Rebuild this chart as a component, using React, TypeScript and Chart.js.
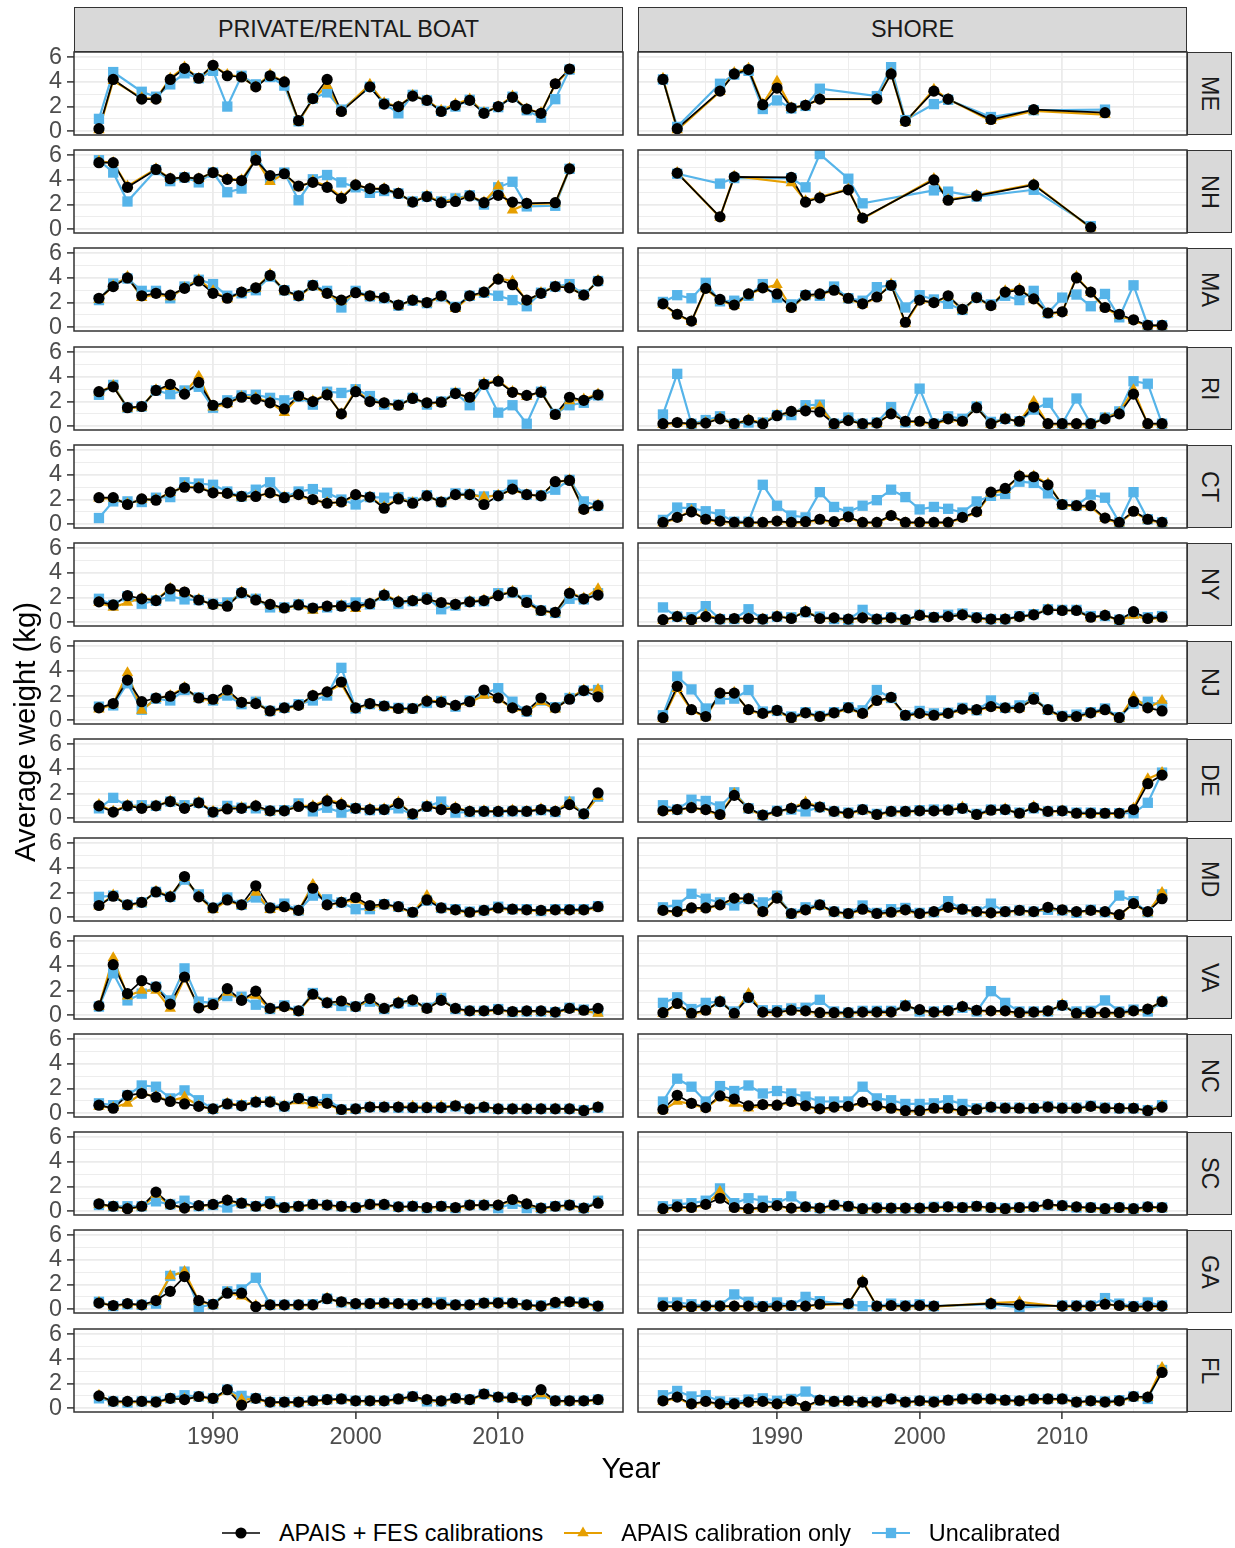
import React, { useEffect, useRef } from 'react';
import { Chart, registerables } from 'chart.js';

Chart.register(...registerables);

const _ = null;

// ---------------- data ----------------
const YEARS = [1982, 1983, 1984, 1985, 1986, 1987, 1988, 1989, 1990, 1991, 1992, 1993, 1994, 1995, 1996, 1997, 1998, 1999, 2000, 2001, 2002, 2003, 2004, 2005, 2006, 2007, 2008, 2009, 2010, 2011, 2012, 2013, 2014, 2015, 2016, 2017];
const X_TICKS = [1985, 1990, 1995, 2000, 2005, 2010, 2015];
const X_LABELS = [1990, 2000, 2010];
const Y_TICKS = [0, 1, 2, 3, 4, 5, 6];
const Y_LABELS = [0, 2, 4, 6];
const STATES = ['ME', 'NH', 'MA', 'RI', 'CT', 'NY', 'NJ', 'DE', 'MD', 'VA', 'NC', 'SC', 'GA', 'FL'];
const MODES = ['PRIVATE/RENTAL BOAT', 'SHORE'];
const SERIES = ['APAIS + FES calibrations', 'APAIS calibration only', 'Uncalibrated'];

const meBoatFes = [0.2, 4.2, _, 2.6, 2.6, 4.2, 5.1, 4.3, 5.35, 4.5, 4.4, 3.6, 4.5, 4.0, 0.85, 2.65, 4.2, 1.6, _, 3.6, 2.2, 2.0, 2.85, 2.5, 1.6, 2.1, 2.5, 1.45, 2.0, 2.75, 1.8, 1.45, 3.85, 5.05, _, _];
const meBoatApais = [0.1, 4.1, _, 2.7, 2.6, 4.3, 5.2, 4.3, 5.3, 4.6, 4.4, 3.6, 4.6, 4.0, 0.8, 2.6, 3.7, 1.6, _, 3.8, 2.3, 2.0, 2.9, 2.5, 1.7, 2.2, 2.6, 1.5, 2.0, 2.85, 1.8, 1.5, 3.8, 5.0, _, _];
const meBoatUncal = [1.0, 4.8, _, 3.2, 2.8, 3.8, 4.7, 4.3, 4.9, 2.0, 4.5, 3.8, 4.4, 3.7, 0.8, 2.65, 3.15, 1.75, _, 3.6, 2.25, 1.45, 2.95, 2.5, 1.65, 2.0, 2.55, 1.55, 1.95, 2.8, 1.7, 1.1, 2.6, 5.0, _, _];
const meShoreFes = [4.2, 0.2, _, _, 3.25, 4.65, 5.0, 2.15, 3.5, 1.9, 2.1, 2.6, _, _, _, 2.6, 4.65, 0.8, _, 3.25, 2.6, _, _, 0.95, _, _, 1.75, _, _, _, _, 1.5, _, _, _, _];
const meShoreApais = [4.3, 0.1, _, _, 3.2, 4.75, 5.1, 2.2, 4.05, 1.9, 2.1, 2.6, _, _, _, 2.6, 4.7, 0.7, _, 3.4, 2.6, _, _, 0.85, _, _, 1.65, _, _, _, _, 1.35, _, _, _, _];
const meShoreUncal = [4.2, 0.35, _, _, 3.85, 4.6, 4.9, 1.8, 2.5, 1.85, 2.05, 3.45, _, _, _, 2.85, 5.2, 0.9, _, 2.2, 2.55, _, _, 1.15, _, _, 1.7, _, _, _, _, 1.75, _, _, _, _];

const nhBoatFes = [5.4, 5.4, 3.4, _, 4.85, 4.1, 4.2, 4.1, 4.6, 4.05, 3.95, 5.6, 4.35, 4.5, 3.5, 3.8, 3.4, 2.5, 3.6, 3.3, 3.25, 2.9, 2.2, 2.65, 2.15, 2.25, 2.7, 2.15, 2.75, 2.2, 2.1, _, 2.15, 4.9, _, _];
const nhBoatApais = [5.5, 5.4, 3.5, _, 4.9, 4.1, 4.2, 4.1, 4.6, 4.1, 4.0, 5.7, 3.85, 4.5, 3.4, 3.9, 3.5, 2.6, 3.6, 3.3, 3.3, 2.9, 2.2, 2.7, 2.2, 2.4, 2.7, 2.2, 3.5, 1.55, 2.05, _, 2.1, 4.95, _, _];
const nhBoatUncal = [5.6, 4.6, 2.25, _, 4.8, 3.9, 4.2, 3.8, 4.6, 3.0, 3.3, 5.95, 4.1, 4.6, 2.35, 4.05, 4.4, 3.8, 3.4, 2.95, 3.1, 2.9, 2.25, 2.65, 2.25, 2.5, 2.75, 2.0, 3.4, 3.85, 1.85, _, 1.9, 4.9, _, _];
const nhShoreFes = [_, 4.55, _, _, 1.0, 4.25, _, _, _, 4.2, 2.2, 2.55, _, 3.2, 0.9, _, _, _, _, 4.0, 2.35, _, 2.7, _, _, _, 3.6, _, _, _, 0.15, _, _, _, _, _];
const nhShoreApais = [_, 4.6, _, _, 0.95, 4.3, _, _, _, 3.75, 2.3, 2.6, _, 3.25, 0.85, _, _, _, _, 4.1, 2.4, _, 2.75, _, _, _, 3.65, _, _, _, 0.1, _, _, _, _, _];
const nhShoreUncal = [_, 4.5, _, _, 3.7, 4.15, _, _, _, 4.15, 3.4, 6.1, _, 4.1, 2.1, _, _, _, _, 3.15, 3.05, _, 2.65, _, _, _, 3.2, _, _, _, 0.25, _, _, _, _, _];

const maBoatFes = [2.35, 3.3, 4.0, 2.55, 2.75, 2.6, 3.15, 3.75, 2.75, 2.35, 2.85, 3.2, 4.2, 3.0, 2.55, 3.4, 2.75, 2.2, 2.8, 2.55, 2.4, 1.8, 2.2, 2.0, 2.55, 1.6, 2.55, 2.85, 3.9, 3.45, 2.2, 2.75, 3.3, 3.2, 2.6, 3.75];
const maBoatApais = [2.25, 3.35, 4.1, 2.4, 2.7, 2.45, 3.2, 3.85, 2.95, 2.3, 2.8, 3.15, 4.3, 2.95, 2.5, 3.35, 2.7, 2.1, 2.75, 2.5, 2.4, 1.75, 2.2, 1.95, 2.5, 1.5, 2.5, 2.8, 3.95, 3.75, 2.1, 2.8, 3.3, 3.25, 2.55, 3.8];
const maBoatUncal = [2.2, 3.55, 3.95, 2.95, 2.95, 2.35, 3.3, 3.85, 3.5, 2.55, 2.75, 3.0, 4.1, 3.0, 2.55, 3.4, 2.95, 1.6, 2.95, 2.5, 2.35, 1.75, 2.15, 1.95, 2.5, 1.65, 2.55, 2.8, 2.55, 2.2, 1.7, 2.8, 3.3, 3.5, 2.65, 3.75];
const maShoreFes = [1.9, 1.05, 0.5, 3.15, 2.25, 1.8, 2.7, 3.2, 2.7, 1.6, 2.6, 2.7, 3.0, 2.35, 1.9, 2.45, 3.4, 0.4, 2.2, 2.0, 2.55, 1.45, 2.4, 1.75, 2.85, 3.0, 2.3, 1.15, 1.25, 4.0, 2.85, 1.6, 1.05, 0.6, 0.15, 0.15];
const maShoreApais = [1.85, 1.0, 0.45, 3.1, 2.2, 1.75, 2.65, 3.15, 3.45, 1.55, 2.55, 2.65, 3.0, 2.3, 1.85, 2.4, 3.5, 0.3, 2.15, 2.0, 2.5, 1.4, 2.4, 1.7, 2.95, 3.1, 2.25, 1.1, 1.2, 4.1, 2.8, 1.55, 0.95, 0.55, 0.1, 0.1];
const maShoreUncal = [2.05, 2.6, 2.35, 3.6, 2.1, 2.15, 2.55, 3.5, 2.4, 1.85, 2.6, 2.55, 3.3, 2.35, 2.15, 3.25, 3.4, 1.6, 2.6, 2.25, 1.9, 1.4, 2.4, 1.85, 2.55, 2.2, 2.95, 1.15, 2.4, 2.65, 1.7, 2.7, 0.8, 3.4, 0.15, 0.15];

const riBoatFes = [2.8, 3.2, 1.5, 1.6, 2.9, 3.4, 2.6, 3.55, 1.7, 1.9, 2.35, 2.2, 1.9, 1.4, 2.45, 2.0, 2.55, 1.0, 2.8, 2.0, 1.9, 1.7, 2.25, 1.9, 1.95, 2.65, 2.35, 3.4, 3.65, 2.75, 2.5, 2.75, 0.95, 2.35, 2.1, 2.55];
const riBoatApais = [2.75, 3.3, 1.45, 1.55, 2.95, 3.2, 2.7, 4.05, 1.55, 1.8, 2.4, 2.3, 1.95, 1.1, 2.4, 2.05, 2.6, 1.0, 2.9, 2.05, 1.85, 1.65, 2.3, 1.85, 1.9, 2.7, 2.3, 3.5, 3.7, 2.8, 2.4, 2.8, 0.9, 2.05, 2.2, 2.6];
const riBoatUncal = [2.55, 3.35, 1.5, 1.6, 2.9, 2.6, 2.9, 3.2, 1.5, 2.1, 2.5, 2.55, 2.3, 2.1, 2.4, 1.75, 2.8, 2.7, 3.0, 2.45, 1.75, 1.75, 2.3, 1.75, 2.0, 2.7, 1.7, 3.4, 1.1, 1.7, 0.2, 2.8, 1.0, 1.7, 1.9, 2.5];
const riShoreFes = [0.2, 0.3, 0.2, 0.25, 0.6, 0.2, 0.5, 0.2, 0.85, 1.2, 1.25, 1.15, 0.2, 0.45, 0.2, 0.25, 1.0, 0.4, 0.4, 0.2, 0.6, 0.4, 1.5, 0.2, 0.6, 0.4, 1.55, 0.2, 0.2, 0.2, 0.2, 0.6, 1.0, 2.6, 0.2, 0.2];
const riShoreApais = [0.15, 0.25, 0.15, 0.3, 0.65, 0.15, 0.55, 0.25, 0.9, 1.15, 1.35, 1.6, 0.15, 0.5, 0.15, 0.2, 1.05, 0.35, 0.35, 0.15, 0.55, 0.35, 1.55, 0.15, 0.65, 0.35, 2.0, 0.15, 0.15, 0.15, 0.15, 0.65, 1.1, 2.95, 0.15, 0.15];
const riShoreUncal = [0.95, 4.25, 0.2, 0.5, 0.8, 0.2, 0.3, 0.3, 0.9, 0.9, 1.7, 1.75, 0.2, 0.7, 0.2, 0.3, 1.55, 0.3, 3.05, 0.2, 0.8, 0.6, 1.6, 0.35, 0.6, 0.4, 1.35, 1.9, 0.2, 2.25, 0.2, 0.7, 1.2, 3.65, 3.45, 0.2];

const ctBoatFes = [2.15, 2.15, 1.6, 2.05, 1.95, 2.6, 3.0, 2.95, 2.55, 2.5, 2.25, 2.25, 2.55, 2.15, 2.4, 2.0, 1.7, 1.8, 2.4, 2.2, 1.3, 2.05, 1.7, 2.3, 1.8, 2.4, 2.4, 1.6, 2.3, 2.85, 2.4, 2.3, 3.45, 3.55, 1.2, 1.5];
const ctBoatApais = [2.1, 2.1, 1.65, 2.0, 2.0, 2.55, 3.05, 3.0, 2.6, 2.45, 2.2, 2.3, 2.5, 2.2, 2.35, 1.95, 1.75, 1.75, 2.35, 2.2, 1.4, 2.1, 1.75, 2.3, 1.8, 2.35, 2.4, 2.2, 2.35, 2.8, 2.4, 2.3, 3.4, 3.6, 1.15, 1.55];
const ctBoatUncal = [0.5, 1.85, 1.85, 1.8, 2.15, 2.2, 3.4, 3.3, 3.2, 2.65, 2.25, 2.8, 3.4, 2.2, 2.65, 2.85, 2.55, 2.0, 1.6, 2.2, 2.15, 2.2, 1.8, 2.35, 1.8, 2.5, 2.45, 2.25, 2.35, 3.2, 2.4, 2.35, 2.8, 3.6, 1.85, 1.5];
const ctShoreFes = [0.15, 0.55, 1.0, 0.4, 0.25, 0.15, 0.15, 0.15, 0.25, 0.15, 0.2, 0.4, 0.2, 0.6, 0.15, 0.15, 0.7, 0.15, 0.15, 0.15, 0.15, 0.55, 1.0, 2.6, 2.9, 3.9, 3.85, 3.2, 1.6, 1.5, 1.5, 0.5, 0.15, 1.05, 0.4, 0.15];
const ctShoreApais = [0.1, 0.5, 1.1, 0.35, 0.2, 0.1, 0.1, 0.1, 0.2, 0.1, 0.15, 0.35, 0.15, 0.55, 0.1, 0.1, 0.65, 0.1, 0.1, 0.1, 0.1, 0.5, 0.95, 2.5, 2.8, 3.95, 3.9, 3.3, 1.55, 1.45, 1.4, 0.45, 0.1, 1.0, 0.35, 0.1];
const ctShoreUncal = [0.35, 1.35, 1.3, 1.05, 0.8, 0.2, 0.2, 3.2, 1.5, 0.7, 0.55, 2.6, 1.4, 1.0, 1.5, 1.95, 2.8, 2.2, 1.2, 1.4, 1.25, 0.95, 1.85, 2.3, 2.45, 3.45, 3.35, 2.5, 1.6, 1.5, 2.4, 2.15, 0.15, 2.6, 0.4, 0.15];

const nyBoatFes = [1.65, 1.4, 2.15, 1.9, 1.75, 2.7, 2.45, 1.8, 1.45, 1.3, 2.4, 1.8, 1.45, 1.15, 1.4, 1.15, 1.3, 1.3, 1.3, 1.5, 2.2, 1.65, 1.75, 1.85, 1.6, 1.45, 1.65, 1.75, 2.15, 2.45, 1.6, 0.95, 0.8, 2.35, 1.9, 2.2];
const nyBoatApais = [1.6, 1.2, 1.6, 1.95, 1.8, 2.75, 2.4, 1.85, 1.4, 1.35, 2.45, 1.85, 1.4, 1.1, 1.4, 0.95, 1.25, 1.35, 1.1, 1.5, 2.25, 1.7, 1.75, 1.9, 1.55, 1.4, 1.7, 1.8, 2.2, 2.5, 1.55, 0.9, 0.75, 2.4, 1.95, 2.7];
const nyBoatUncal = [1.9, 1.4, 2.1, 1.5, 1.75, 2.1, 1.85, 1.8, 1.5, 1.6, 2.35, 1.9, 1.2, 1.2, 1.45, 1.1, 1.2, 1.35, 1.6, 1.45, 2.15, 1.5, 1.7, 2.0, 1.05, 1.35, 1.65, 1.7, 2.35, 2.4, 1.8, 0.95, 0.75, 1.9, 1.85, 2.35];
const nyShoreFes = [0.2, 0.45, 0.2, 0.45, 0.25, 0.3, 0.3, 0.25, 0.45, 0.3, 0.85, 0.3, 0.35, 0.25, 0.35, 0.25, 0.35, 0.2, 0.55, 0.4, 0.45, 0.6, 0.35, 0.25, 0.25, 0.45, 0.6, 1.0, 0.95, 0.95, 0.4, 0.55, 0.2, 0.85, 0.3, 0.4];
const nyShoreApais = [0.15, 0.45, 0.15, 0.6, 0.25, 0.25, 0.3, 0.25, 0.5, 0.3, 0.9, 0.3, 0.3, 0.2, 0.35, 0.2, 0.3, 0.15, 0.55, 0.35, 0.45, 0.6, 0.3, 0.2, 0.25, 0.4, 0.6, 1.05, 0.95, 0.95, 0.35, 0.55, 0.15, 0.55, 0.25, 0.35];
const nyShoreUncal = [1.2, 0.45, 0.4, 1.3, 0.25, 0.25, 1.05, 0.25, 0.45, 0.4, 0.8, 0.45, 0.25, 0.2, 1.0, 0.25, 0.4, 0.2, 0.6, 0.4, 0.6, 0.7, 0.4, 0.25, 0.25, 0.5, 0.65, 1.05, 1.0, 1.0, 0.5, 0.5, 0.2, 0.7, 0.4, 0.5];

const njBoatFes = [1.0, 1.35, 3.25, 1.5, 1.8, 1.95, 2.6, 1.8, 1.7, 2.45, 1.45, 1.35, 0.75, 1.0, 1.2, 2.0, 2.3, 3.1, 1.0, 1.35, 1.15, 0.95, 0.95, 1.55, 1.45, 1.2, 1.5, 2.45, 1.8, 1.0, 0.75, 1.8, 1.0, 1.7, 2.4, 1.9];
const njBoatApais = [0.9, 1.3, 3.85, 0.8, 1.75, 2.0, 2.65, 1.75, 1.6, 2.3, 1.4, 1.4, 0.7, 0.95, 1.15, 2.0, 2.25, 2.95, 0.95, 1.3, 1.1, 0.9, 0.9, 1.6, 1.5, 1.15, 1.45, 2.0, 1.75, 0.95, 0.7, 1.5, 0.9, 1.8, 2.45, 2.5];
const njBoatUncal = [1.1, 1.2, 3.0, 0.85, 1.75, 1.6, 2.45, 1.85, 1.6, 2.0, 1.3, 1.5, 0.75, 1.0, 1.3, 1.6, 2.0, 4.25, 0.95, 1.3, 1.15, 1.0, 0.95, 1.4, 1.55, 1.1, 1.6, 2.15, 2.6, 1.5, 0.7, 1.6, 1.05, 1.8, 2.4, 2.45];
const njShoreFes = [0.2, 2.75, 0.85, 0.3, 2.2, 2.2, 0.85, 0.55, 0.8, 0.2, 0.6, 0.3, 0.6, 1.0, 0.55, 1.6, 1.85, 0.4, 0.55, 0.4, 0.55, 0.9, 0.85, 1.1, 1.0, 1.0, 1.7, 0.85, 0.3, 0.3, 0.6, 0.85, 0.2, 1.5, 1.0, 0.75];
const njShoreApais = [0.15, 2.55, 0.8, 0.25, 2.15, 2.25, 0.8, 0.5, 0.75, 0.15, 0.55, 0.25, 0.55, 0.95, 0.5, 1.55, 1.8, 0.35, 0.5, 0.35, 0.5, 0.85, 0.8, 1.05, 0.95, 0.95, 1.75, 0.8, 0.25, 0.25, 0.55, 0.8, 0.15, 1.9, 1.0, 1.6];
const njShoreUncal = [0.4, 3.55, 2.5, 0.95, 1.7, 1.75, 2.45, 0.7, 0.75, 0.3, 0.65, 0.35, 0.65, 1.05, 0.8, 2.45, 1.8, 0.4, 0.75, 0.55, 0.6, 1.0, 0.8, 1.6, 1.0, 1.2, 1.85, 0.85, 0.35, 0.45, 0.65, 0.95, 0.25, 1.35, 1.5, 1.2];

const deBoatFes = [1.0, 0.5, 1.0, 0.8, 1.0, 1.35, 0.8, 1.25, 0.5, 0.75, 0.8, 1.0, 0.6, 0.6, 0.95, 0.9, 1.4, 1.1, 0.8, 0.7, 0.7, 1.2, 0.35, 0.95, 0.7, 0.8, 0.55, 0.55, 0.55, 0.6, 0.55, 0.7, 0.55, 1.1, 0.35, 2.05];
const deBoatApais = [1.1, 0.55, 1.05, 0.85, 1.0, 1.4, 0.85, 1.3, 0.55, 0.8, 0.85, 1.0, 0.55, 0.6, 1.0, 1.0, 1.5, 1.2, 0.8, 0.75, 0.75, 1.3, 0.3, 1.0, 0.75, 0.85, 0.55, 0.6, 0.55, 0.65, 0.55, 0.75, 0.55, 1.3, 0.3, 1.75];
const deBoatUncal = [0.8, 1.65, 1.0, 1.05, 1.0, 1.35, 1.05, 1.25, 0.5, 1.0, 0.85, 0.8, 0.6, 0.65, 1.2, 0.55, 0.85, 0.45, 0.8, 0.65, 0.7, 0.8, 0.3, 0.95, 1.35, 0.45, 0.5, 0.55, 0.5, 0.55, 0.55, 0.65, 0.5, 1.35, 0.35, 1.75];
const deShoreFes = [0.6, 0.7, 0.85, 0.7, 0.3, 1.85, 0.8, 0.25, 0.55, 0.8, 1.15, 0.9, 0.55, 0.4, 0.7, 0.3, 0.55, 0.55, 0.6, 0.6, 0.65, 0.8, 0.3, 0.65, 0.7, 0.4, 0.85, 0.55, 0.6, 0.4, 0.4, 0.4, 0.4, 0.7, 2.8, 3.5];
const deShoreApais = [0.55, 0.65, 0.85, 0.65, 0.25, 2.0, 0.75, 0.2, 0.5, 0.8, 1.3, 0.9, 0.5, 0.35, 0.65, 0.25, 0.5, 0.5, 0.6, 0.6, 0.65, 0.9, 0.25, 0.6, 0.75, 0.35, 0.95, 0.5, 0.6, 0.35, 0.35, 0.35, 0.35, 0.8, 3.2, 3.7];
const deShoreUncal = [1.05, 0.7, 1.5, 1.4, 0.95, 2.1, 0.8, 0.25, 0.6, 0.7, 0.55, 0.9, 0.55, 0.45, 0.7, 0.35, 0.55, 0.55, 0.65, 0.7, 0.7, 0.8, 0.35, 0.7, 0.7, 0.45, 0.8, 0.55, 0.6, 0.45, 0.45, 0.4, 0.4, 0.4, 1.25, 3.7];

const mdBoatFes = [0.95, 1.7, 1.0, 1.2, 2.05, 1.65, 3.3, 1.65, 0.75, 1.4, 1.0, 2.55, 0.75, 0.85, 0.55, 2.35, 1.0, 1.2, 1.6, 0.95, 1.05, 0.85, 0.4, 1.4, 0.75, 0.6, 0.4, 0.55, 0.75, 0.65, 0.6, 0.55, 0.6, 0.6, 0.6, 0.85];
const mdBoatApais = [0.9, 1.8, 0.95, 1.15, 2.1, 1.7, 3.2, 1.7, 0.6, 1.35, 0.95, 2.0, 0.6, 0.8, 0.5, 2.65, 0.95, 1.2, 1.4, 0.8, 1.0, 0.8, 0.35, 1.75, 0.7, 0.55, 0.35, 0.5, 0.7, 0.6, 0.55, 0.5, 0.55, 0.55, 0.55, 0.8];
const mdBoatUncal = [1.65, 1.75, 1.0, 1.2, 2.05, 1.65, 3.05, 1.85, 0.75, 1.6, 1.0, 1.6, 0.75, 1.1, 0.55, 1.75, 1.45, 1.2, 0.65, 0.65, 1.05, 0.85, 0.4, 1.35, 0.75, 0.65, 0.45, 0.55, 0.85, 0.65, 0.65, 0.5, 0.65, 0.65, 0.65, 0.9];
const mdShoreFes = [0.55, 0.45, 0.75, 0.75, 1.0, 1.55, 1.5, 0.45, 1.55, 0.3, 0.6, 1.0, 0.45, 0.3, 0.65, 0.3, 0.4, 0.6, 0.3, 0.45, 0.8, 0.65, 0.45, 0.35, 0.45, 0.55, 0.45, 0.8, 0.6, 0.45, 0.55, 0.45, 0.2, 1.1, 0.45, 1.5];
const mdShoreApais = [0.5, 0.4, 0.7, 0.7, 1.0, 1.5, 1.5, 0.4, 1.6, 0.25, 0.55, 0.95, 0.4, 0.25, 0.6, 0.25, 0.35, 0.55, 0.25, 0.4, 0.75, 0.6, 0.4, 0.3, 0.4, 0.5, 0.4, 0.75, 0.55, 0.4, 0.5, 0.4, 0.15, 1.1, 0.35, 2.0];
const mdShoreUncal = [0.8, 1.0, 1.9, 1.5, 1.2, 0.95, 1.5, 1.2, 1.75, 0.3, 0.8, 1.0, 0.45, 0.3, 0.95, 0.35, 0.65, 0.75, 0.35, 0.4, 1.3, 0.65, 0.45, 1.1, 0.45, 0.55, 0.45, 0.6, 0.55, 0.35, 0.6, 0.4, 1.75, 1.3, 0.4, 1.85];

const vaBoatFes = [0.75, 4.1, 1.75, 2.8, 2.3, 0.9, 3.1, 0.6, 0.85, 2.15, 1.2, 1.95, 0.55, 0.7, 0.35, 1.7, 1.0, 1.15, 0.7, 1.35, 0.55, 1.0, 1.25, 0.55, 1.2, 0.55, 0.35, 0.35, 0.45, 0.3, 0.35, 0.35, 0.25, 0.55, 0.4, 0.55];
const vaBoatApais = [0.7, 4.65, 1.55, 2.0, 2.0, 0.55, 3.0, 0.65, 0.8, 1.85, 1.3, 1.6, 0.5, 0.65, 0.3, 1.65, 1.0, 1.1, 0.65, 1.25, 0.5, 1.05, 1.2, 0.5, 1.25, 0.5, 0.3, 0.3, 0.4, 0.25, 0.3, 0.3, 0.2, 0.5, 0.35, 0.15];
const vaBoatUncal = [0.7, 3.4, 1.2, 1.75, 2.3, 1.2, 3.8, 1.1, 1.0, 1.55, 1.5, 0.85, 0.5, 0.8, 0.35, 1.8, 1.0, 0.75, 0.7, 1.1, 0.5, 0.95, 1.1, 0.6, 1.4, 0.5, 0.35, 0.35, 0.5, 0.25, 0.3, 0.3, 0.25, 0.6, 0.45, 0.3];
const vaShoreFes = [0.2, 0.95, 0.15, 0.4, 1.1, 0.15, 1.45, 0.25, 0.25, 0.4, 0.35, 0.2, 0.2, 0.2, 0.25, 0.25, 0.25, 0.75, 0.45, 0.25, 0.35, 0.7, 0.4, 0.35, 0.35, 0.2, 0.25, 0.35, 0.8, 0.15, 0.2, 0.2, 0.2, 0.35, 0.5, 1.1];
const vaShoreApais = [0.15, 0.9, 0.1, 0.35, 1.15, 0.1, 1.75, 0.2, 0.2, 0.4, 0.3, 0.15, 0.15, 0.15, 0.2, 0.2, 0.2, 0.8, 0.4, 0.2, 0.3, 0.7, 0.35, 0.3, 0.3, 0.15, 0.2, 0.3, 0.85, 0.1, 0.15, 0.15, 0.15, 0.3, 0.45, 1.15];
const vaShoreUncal = [1.0, 1.45, 0.5, 1.0, 1.1, 0.3, 1.4, 0.4, 0.4, 0.55, 0.6, 1.25, 0.3, 0.2, 0.35, 0.35, 0.35, 0.8, 0.3, 0.3, 0.4, 0.6, 0.3, 1.95, 1.0, 0.3, 0.3, 0.3, 0.8, 0.3, 0.35, 1.2, 0.3, 0.45, 0.3, 1.1];

const ncBoatFes = [0.65, 0.4, 1.45, 1.6, 1.3, 0.95, 0.75, 0.55, 0.35, 0.75, 0.6, 0.9, 0.9, 0.55, 1.2, 0.95, 0.8, 0.3, 0.35, 0.5, 0.5, 0.5, 0.45, 0.45, 0.45, 0.6, 0.35, 0.5, 0.35, 0.35, 0.35, 0.35, 0.35, 0.35, 0.2, 0.5];
const ncBoatApais = [0.55, 0.45, 0.8, 1.6, 1.35, 1.0, 1.3, 0.6, 0.3, 0.8, 0.65, 0.95, 0.95, 0.6, 1.0, 0.65, 0.75, 0.25, 0.3, 0.5, 0.5, 0.5, 0.55, 0.5, 0.55, 0.6, 0.4, 0.5, 0.35, 0.35, 0.35, 0.35, 0.35, 0.35, 0.2, 0.5];
const ncBoatUncal = [0.8, 0.65, 1.45, 2.25, 2.15, 1.2, 1.85, 1.05, 0.35, 0.75, 0.65, 0.9, 0.95, 0.55, 1.2, 0.95, 1.15, 0.3, 0.35, 0.5, 0.5, 0.45, 0.45, 0.45, 0.45, 0.55, 0.35, 0.45, 0.35, 0.35, 0.35, 0.35, 0.35, 0.35, 0.25, 0.45];
const ncShoreFes = [0.3, 1.45, 0.8, 0.45, 1.4, 1.15, 0.6, 0.7, 0.65, 0.95, 0.6, 0.35, 0.5, 0.55, 0.9, 0.6, 0.4, 0.2, 0.2, 0.4, 0.4, 0.2, 0.3, 0.5, 0.4, 0.4, 0.4, 0.5, 0.4, 0.4, 0.55, 0.4, 0.4, 0.4, 0.2, 0.5];
const ncShoreApais = [0.25, 0.95, 0.75, 0.4, 1.3, 0.8, 0.4, 0.65, 0.6, 0.9, 0.55, 0.3, 0.45, 0.5, 0.85, 0.55, 0.35, 0.15, 0.15, 0.35, 0.35, 0.15, 0.3, 0.5, 0.4, 0.4, 0.4, 0.5, 0.4, 0.4, 0.5, 0.4, 0.4, 0.4, 0.2, 0.6];
const ncShoreUncal = [0.95, 2.8, 2.15, 0.95, 2.2, 1.8, 2.25, 1.6, 1.8, 1.6, 1.35, 0.95, 0.95, 0.95, 2.15, 1.2, 1.05, 0.75, 0.75, 0.8, 1.05, 0.75, 0.4, 0.5, 0.45, 0.45, 0.4, 0.55, 0.45, 0.45, 0.6, 0.45, 0.4, 0.4, 0.25, 0.65];

const scBoatFes = [0.6, 0.4, 0.2, 0.4, 1.55, 0.55, 0.25, 0.45, 0.55, 0.9, 0.65, 0.4, 0.6, 0.3, 0.4, 0.55, 0.5, 0.4, 0.3, 0.55, 0.55, 0.35, 0.4, 0.3, 0.4, 0.3, 0.5, 0.5, 0.5, 0.95, 0.6, 0.25, 0.4, 0.5, 0.25, 0.65];
const scBoatApais = [0.55, 0.35, 0.2, 0.35, 1.35, 0.5, 0.25, 0.4, 0.5, 0.85, 0.6, 0.35, 0.55, 0.25, 0.35, 0.5, 0.45, 0.35, 0.25, 0.5, 0.5, 0.3, 0.4, 0.25, 0.35, 0.25, 0.45, 0.5, 0.45, 0.9, 0.55, 0.2, 0.35, 0.45, 0.2, 0.7];
const scBoatUncal = [0.5, 0.4, 0.4, 0.4, 0.8, 0.55, 0.85, 0.4, 0.5, 0.3, 0.65, 0.4, 0.8, 0.3, 0.4, 0.55, 0.5, 0.4, 0.3, 0.55, 0.5, 0.35, 0.4, 0.25, 0.4, 0.25, 0.5, 0.5, 0.25, 0.6, 0.25, 0.25, 0.4, 0.5, 0.25, 0.85];
const scShoreFes = [0.2, 0.35, 0.3, 0.55, 1.05, 0.3, 0.2, 0.3, 0.45, 0.25, 0.35, 0.25, 0.5, 0.4, 0.2, 0.25, 0.25, 0.25, 0.25, 0.3, 0.35, 0.3, 0.4, 0.3, 0.2, 0.3, 0.35, 0.55, 0.45, 0.35, 0.3, 0.2, 0.3, 0.2, 0.35, 0.3];
const scShoreApais = [0.15, 0.3, 0.25, 0.5, 1.6, 0.25, 0.15, 0.25, 0.4, 0.2, 0.3, 0.2, 0.45, 0.35, 0.15, 0.2, 0.2, 0.2, 0.2, 0.25, 0.3, 0.25, 0.35, 0.25, 0.15, 0.25, 0.3, 0.5, 0.4, 0.3, 0.25, 0.15, 0.25, 0.15, 0.3, 0.25];
const scShoreUncal = [0.4, 0.55, 0.65, 0.85, 1.85, 0.65, 1.05, 0.85, 0.65, 1.2, 0.35, 0.25, 0.5, 0.4, 0.2, 0.3, 0.25, 0.25, 0.25, 0.35, 0.35, 0.3, 0.4, 0.3, 0.25, 0.3, 0.35, 0.5, 0.45, 0.3, 0.3, 0.2, 0.3, 0.2, 0.35, 0.3];

const gaBoatFes = [0.5, 0.3, 0.45, 0.35, 0.7, 1.45, 2.65, 0.7, 0.4, 1.3, 1.3, 0.2, 0.35, 0.35, 0.35, 0.35, 0.85, 0.6, 0.45, 0.45, 0.5, 0.45, 0.35, 0.5, 0.4, 0.35, 0.35, 0.5, 0.5, 0.5, 0.35, 0.25, 0.55, 0.6, 0.5, 0.25];
const gaBoatApais = [0.55, 0.25, 0.4, 0.3, 0.65, 2.7, 3.05, 0.65, 0.35, 1.35, 1.05, 0.3, 0.3, 0.3, 0.3, 0.3, 0.9, 0.55, 0.4, 0.4, 0.45, 0.4, 0.3, 0.45, 0.35, 0.3, 0.3, 0.45, 0.45, 0.45, 0.3, 0.2, 0.5, 0.55, 0.45, 0.2];
const gaBoatUncal = [0.6, 0.25, 0.4, 0.35, 0.45, 2.7, 3.05, 0.15, 0.4, 1.45, 1.6, 2.55, 0.35, 0.35, 0.35, 0.4, 0.85, 0.55, 0.4, 0.45, 0.5, 0.45, 0.4, 0.5, 0.55, 0.35, 0.35, 0.5, 0.55, 0.5, 0.35, 0.3, 0.45, 0.6, 0.55, 0.25];
const gaShoreFes = [0.25, 0.25, 0.2, 0.25, 0.25, 0.25, 0.25, 0.2, 0.25, 0.3, 0.25, 0.4, _, 0.45, 2.2, 0.25, 0.3, 0.25, 0.3, 0.25, _, _, _, 0.45, _, 0.35, _, _, 0.25, 0.25, 0.25, 0.4, 0.3, 0.2, 0.25, 0.25];
const gaShoreApais = [0.2, 0.2, 0.15, 0.2, 0.2, 0.2, 0.2, 0.15, 0.2, 0.25, 0.2, 0.35, _, 0.4, 2.3, 0.2, 0.25, 0.2, 0.25, 0.2, _, _, _, 0.5, _, 0.6, _, _, 0.2, 0.2, 0.2, 0.45, 0.25, 0.15, 0.2, 0.2];
const gaShoreUncal = [0.55, 0.55, 0.4, 0.3, 0.3, 1.2, 0.6, 0.25, 0.55, 0.3, 1.0, 0.65, _, 0.4, 0.25, 0.25, 0.45, 0.3, 0.4, 0.25, _, _, _, 0.4, _, 0.15, _, _, 0.3, 0.3, 0.3, 0.9, 0.45, 0.25, 0.55, 0.3];

const flBoatFes = [1.0, 0.55, 0.55, 0.55, 0.5, 0.8, 0.7, 0.95, 0.8, 1.5, 0.25, 0.8, 0.5, 0.5, 0.5, 0.6, 0.7, 0.75, 0.6, 0.6, 0.6, 0.75, 0.95, 0.7, 0.6, 0.8, 0.7, 1.15, 0.9, 0.85, 0.6, 1.5, 0.6, 0.6, 0.6, 0.7];
const flBoatApais = [1.05, 0.5, 0.5, 0.5, 0.45, 0.75, 0.75, 0.9, 0.75, 1.4, 0.7, 0.75, 0.45, 0.45, 0.45, 0.55, 0.65, 0.7, 0.55, 0.55, 0.55, 0.7, 0.9, 0.65, 0.55, 0.75, 0.65, 1.1, 0.85, 0.8, 0.55, 1.15, 0.55, 0.55, 0.55, 0.65];
const flBoatUncal = [0.8, 0.55, 0.45, 0.55, 0.55, 0.8, 1.05, 0.95, 0.8, 1.5, 1.0, 0.8, 0.5, 0.5, 0.5, 0.6, 0.7, 0.75, 0.6, 0.6, 0.6, 0.75, 0.95, 0.55, 0.55, 0.8, 0.7, 1.15, 0.9, 0.85, 0.65, 1.15, 0.6, 0.6, 0.6, 0.7];
const flShoreFes = [0.6, 0.9, 0.35, 0.55, 0.35, 0.35, 0.5, 0.55, 0.35, 0.6, 0.15, 0.65, 0.55, 0.6, 0.5, 0.5, 0.75, 0.5, 0.6, 0.5, 0.65, 0.75, 0.75, 0.75, 0.65, 0.6, 0.75, 0.75, 0.75, 0.5, 0.6, 0.5, 0.6, 0.95, 0.9, 2.9];
const flShoreApais = [0.55, 0.85, 0.3, 0.5, 0.3, 0.3, 0.45, 0.5, 0.3, 0.55, 0.1, 0.6, 0.5, 0.55, 0.45, 0.45, 0.7, 0.45, 0.55, 0.45, 0.6, 0.7, 0.7, 0.7, 0.6, 0.55, 0.7, 0.7, 0.7, 0.45, 0.55, 0.45, 0.55, 0.9, 0.85, 3.3];
const flShoreUncal = [1.05, 1.4, 0.95, 1.05, 0.55, 0.45, 0.7, 0.8, 0.6, 0.75, 1.35, 0.65, 0.55, 0.6, 0.5, 0.55, 0.75, 0.5, 0.6, 0.55, 0.65, 0.75, 0.8, 0.75, 0.65, 0.6, 0.75, 0.75, 0.75, 0.5, 0.6, 0.55, 0.65, 0.95, 0.75, 3.1];

type Vals = (number | null)[];
const PANEL_DATA: Record<string, Vals[][]> = {
  ME: [[meBoatFes, meBoatApais, meBoatUncal], [meShoreFes, meShoreApais, meShoreUncal]],
  NH: [[nhBoatFes, nhBoatApais, nhBoatUncal], [nhShoreFes, nhShoreApais, nhShoreUncal]],
  MA: [[maBoatFes, maBoatApais, maBoatUncal], [maShoreFes, maShoreApais, maShoreUncal]],
  RI: [[riBoatFes, riBoatApais, riBoatUncal], [riShoreFes, riShoreApais, riShoreUncal]],
  CT: [[ctBoatFes, ctBoatApais, ctBoatUncal], [ctShoreFes, ctShoreApais, ctShoreUncal]],
  NY: [[nyBoatFes, nyBoatApais, nyBoatUncal], [nyShoreFes, nyShoreApais, nyShoreUncal]],
  NJ: [[njBoatFes, njBoatApais, njBoatUncal], [njShoreFes, njShoreApais, njShoreUncal]],
  DE: [[deBoatFes, deBoatApais, deBoatUncal], [deShoreFes, deShoreApais, deShoreUncal]],
  MD: [[mdBoatFes, mdBoatApais, mdBoatUncal], [mdShoreFes, mdShoreApais, mdShoreUncal]],
  VA: [[vaBoatFes, vaBoatApais, vaBoatUncal], [vaShoreFes, vaShoreApais, vaShoreUncal]],
  NC: [[ncBoatFes, ncBoatApais, ncBoatUncal], [ncShoreFes, ncShoreApais, ncShoreUncal]],
  SC: [[scBoatFes, scBoatApais, scBoatUncal], [scShoreFes, scShoreApais, scShoreUncal]],
  GA: [[gaBoatFes, gaBoatApais, gaBoatUncal], [gaShoreFes, gaShoreApais, gaShoreUncal]],
  FL: [[flBoatFes, flBoatApais, flBoatUncal], [flShoreFes, flShoreApais, flShoreUncal]],
};

// ---------------- styling / layout ----------------
const FONT = "'Liberation Sans', Arial, Helvetica, sans-serif";
const SMALL = 23.4;
const LARGE = 29.3;
const TICK_COLOR = '#4d4d4d';
const DARK = '#333333';
const GRID = '#ebebeb';
const X_MIN = 1980.25;
const X_MAX = 2018.75;
const Y_MIN = -0.31;
const Y_MAX = 6.43;

const STYLE = [
  { color: '#000000', shape: 'circle', r: 5.6, lw: 1.7 },
  { color: '#E69F00', shape: 'triangle', r: 6.6, lw: 2.2 },
  { color: '#56B4E9', shape: 'rect', r: 7.3, lw: 2.2 },
];

const PANEL_LEFTS = [74, 638];
const PANEL_W = 549;
const PANEL_H = 83;
const TOP0 = 52;
const PITCH = 98.2;
const STRIP_TOP = 7;
const STRIP_W = 45;

const panelBorder = {
  id: 'panelBorder',
  afterDraw(chart: any) {
    const { ctx, chartArea: a } = chart;
    ctx.save();
    ctx.strokeStyle = DARK;
    ctx.lineWidth = 1.5;
    ctx.strokeRect(a.left, a.top, a.right - a.left, a.bottom - a.top);
    ctx.restore();
  },
};

function Panel({ row, col }: { row: number; col: number }) {
  const ref = useRef<HTMLCanvasElement>(null);
  const isLeft = col === 0;
  const isBottom = row === STATES.length - 1;
  const panelTop = Math.round(TOP0 + row * PITCH);
  const panelLeft = PANEL_LEFTS[col];
  const padLeft = isLeft ? 0 : 2;
  const yAxisW = isLeft ? panelLeft : 0;
  const canvasLeft = isLeft ? 0 : panelLeft - 2;
  const padTop = isLeft ? 16 : 2;
  const padRight = 2;
  const xAxisH = isBottom ? 50 : 0;
  const padBottom = isBottom ? 0 : isLeft ? 14 : 2;
  const width = panelLeft + PANEL_W + padRight - canvasLeft;
  const height = padTop + PANEL_H + xAxisH + padBottom;

  useEffect(() => {
    const series = PANEL_DATA[STATES[row]][col];
    const toPts = (vals: Vals) =>
      YEARS.map((yr, i) => ({ x: yr, y: vals[i] })).filter((p) => p.y !== null);
    const pointSets = series.map((vals, k) => ({
      label: SERIES[k],
      data: toPts(vals),
      showLine: false,
      pointStyle: STYLE[k].shape,
      pointRadius: STYLE[k].r,
      pointHoverRadius: STYLE[k].r,
      pointBackgroundColor: STYLE[k].color,
      pointBorderColor: STYLE[k].color,
      pointBorderWidth: 0,
      borderColor: STYLE[k].color,
      backgroundColor: STYLE[k].color,
    }));
    const lineSets = series.map((vals, k) => ({
      label: SERIES[k] + ' line',
      data: toPts(vals),
      showLine: true,
      borderColor: STYLE[k].color,
      borderWidth: STYLE[k].lw,
      pointRadius: 0,
      pointHoverRadius: 0,
      fill: false,
      tension: 0,
    }));

    const chart = new Chart(ref.current as HTMLCanvasElement, {
      type: 'line',
      data: { datasets: [...pointSets, ...lineSets] as any },
      plugins: [panelBorder],
      options: {
        responsive: false,
        animation: false,
        devicePixelRatio: 1,
        events: [],
        layout: {
          autoPadding: false,
          padding: { left: padLeft, right: padRight, top: padTop, bottom: padBottom },
        },
        plugins: { legend: { display: false }, tooltip: { enabled: false } },
        scales: {
          x: {
            type: 'linear',
            min: X_MIN,
            max: X_MAX,
            afterBuildTicks: (axis: any) => {
              axis.ticks = X_TICKS.map((v) => ({ value: v }));
            },
            afterFit: (axis: any) => {
              axis.height = xAxisH;
              axis.paddingLeft = 0;
              axis.paddingRight = 0;
              axis.paddingTop = 0;
              axis.paddingBottom = 0;
            },
            border: { display: false },
            grid: {
              color: GRID,
              lineWidth: (c: any) => (X_LABELS.includes(c.tick?.value) ? 1.8 : 0.9),
              drawTicks: isBottom,
              tickLength: 7,
              tickColor: (c: any) => (X_LABELS.includes(c.tick?.value) ? DARK : 'rgba(0,0,0,0)'),
              tickWidth: 1.5,
            },
            ticks: {
              display: isBottom,
              autoSkip: false,
              maxRotation: 0,
              padding: 5,
              color: TICK_COLOR,
              font: { family: FONT, size: SMALL },
              callback: (v: any) => (X_LABELS.includes(Number(v)) ? String(v) : ''),
            },
          },
          y: {
            type: 'linear',
            min: Y_MIN,
            max: Y_MAX,
            afterBuildTicks: (axis: any) => {
              axis.ticks = Y_TICKS.map((v) => ({ value: v }));
            },
            afterFit: (axis: any) => {
              axis.width = yAxisW;
              axis.paddingLeft = 0;
              axis.paddingRight = 0;
              axis.paddingTop = 0;
              axis.paddingBottom = 0;
            },
            border: { display: false },
            grid: {
              color: GRID,
              lineWidth: (c: any) => (Y_LABELS.includes(c.tick?.value) ? 1.8 : 0.9),
              drawTicks: isLeft,
              tickLength: 7,
              tickColor: (c: any) => (Y_LABELS.includes(c.tick?.value) ? DARK : 'rgba(0,0,0,0)'),
              tickWidth: 1.5,
            },
            ticks: {
              display: isLeft,
              autoSkip: false,
              padding: 5,
              color: TICK_COLOR,
              font: { family: FONT, size: SMALL },
              callback: (v: any) => (Y_LABELS.includes(Number(v)) ? String(v) : ''),
            },
          },
        },
      } as any,
    });
    return () => chart.destroy();
  }, [row, col]);

  return (
    <canvas
      ref={ref}
      width={width}
      height={height}
      style={{ position: 'absolute', left: canvasLeft, top: panelTop - padTop, width, height }}
    />
  );
}

function LegendKey({ k }: { k: number }) {
  const s = STYLE[k];
  const cx = 19;
  const cy = 14;
  let marker: any = null;
  if (s.shape === 'circle') marker = <circle cx={cx} cy={cy} r={s.r} fill={s.color} />;
  else if (s.shape === 'triangle') {
    const r = s.r;
    const pts = `${cx},${cy - r} ${cx + r * 0.866},${cy + r / 2} ${cx - r * 0.866},${cy + r / 2}`;
    marker = <polygon points={pts} fill={s.color} />;
  } else {
    const h = s.r * Math.SQRT1_2;
    marker = <rect x={cx - h} y={cy - h} width={2 * h} height={2 * h} fill={s.color} />;
  }
  return (
    <svg width={38} height={28} style={{ display: 'block', flex: 'none' }}>
      <line x1={0} y1={cy} x2={38} y2={cy} stroke={s.color} strokeWidth={s.lw} />
      {marker}
    </svg>
  );
}

export default function App() {
  return (
    <div
      style={{
        position: 'absolute',
        left: 0,
        top: 0,
        width: 1235,
        height: 1548,
        background: '#ffffff',
        fontFamily: FONT,
        overflow: 'hidden',
      }}
    >
      {MODES.map((m, c) => (
        <div
          key={m}
          style={{
            position: 'absolute',
            left: PANEL_LEFTS[c],
            top: STRIP_TOP,
            width: PANEL_W,
            height: TOP0 - STRIP_TOP,
            boxSizing: 'border-box',
            background: '#d9d9d9',
            border: `1.5px solid ${DARK}`,
            display: 'flex',
            alignItems: 'center',
            justifyContent: 'center',
            fontSize: SMALL,
            color: '#1a1a1a',
          }}
        >
          {m}
        </div>
      ))}
      {STATES.map((s, r) => (
        <div
          key={s}
          style={{
            position: 'absolute',
            left: PANEL_LEFTS[1] + PANEL_W,
            top: Math.round(TOP0 + r * PITCH),
            width: STRIP_W,
            height: PANEL_H,
            boxSizing: 'border-box',
            background: '#d9d9d9',
            border: `1.5px solid ${DARK}`,
            display: 'flex',
            alignItems: 'center',
            justifyContent: 'center',
            fontSize: SMALL,
            color: '#1a1a1a',
          }}
        >
          <span style={{ writingMode: 'vertical-rl' as any }}>{s}</span>
        </div>
      ))}
      {STATES.map((s, r) => MODES.map((m, c) => <Panel key={s + '-' + c} row={r} col={c} />))}
      <div
        style={{
          position: 'absolute',
          left: 25,
          top: 732,
          transform: 'translate(-50%, -50%) rotate(-90deg)',
          whiteSpace: 'nowrap',
          fontSize: LARGE,
          color: '#000',
        }}
      >
        Average weight (kg)
      </div>
      <div
        style={{
          position: 'absolute',
          left: 631,
          top: 1468,
          transform: 'translate(-50%, -50%)',
          whiteSpace: 'nowrap',
          fontSize: LARGE,
          color: '#000',
        }}
      >
        Year
      </div>
      <div
        style={{
          position: 'absolute',
          left: 222,
          top: 1519,
          height: 28,
          display: 'flex',
          alignItems: 'center',
          whiteSpace: 'nowrap',
          fontSize: SMALL,
          color: '#000',
        }}
      >
        {SERIES.map((name, k) => (
          <React.Fragment key={name}>
            <LegendKey k={k} />
            <span style={{ marginLeft: 19, marginRight: k < SERIES.length - 1 ? 21 : 0 }}>{name}</span>
          </React.Fragment>
        ))}
      </div>
    </div>
  );
}
